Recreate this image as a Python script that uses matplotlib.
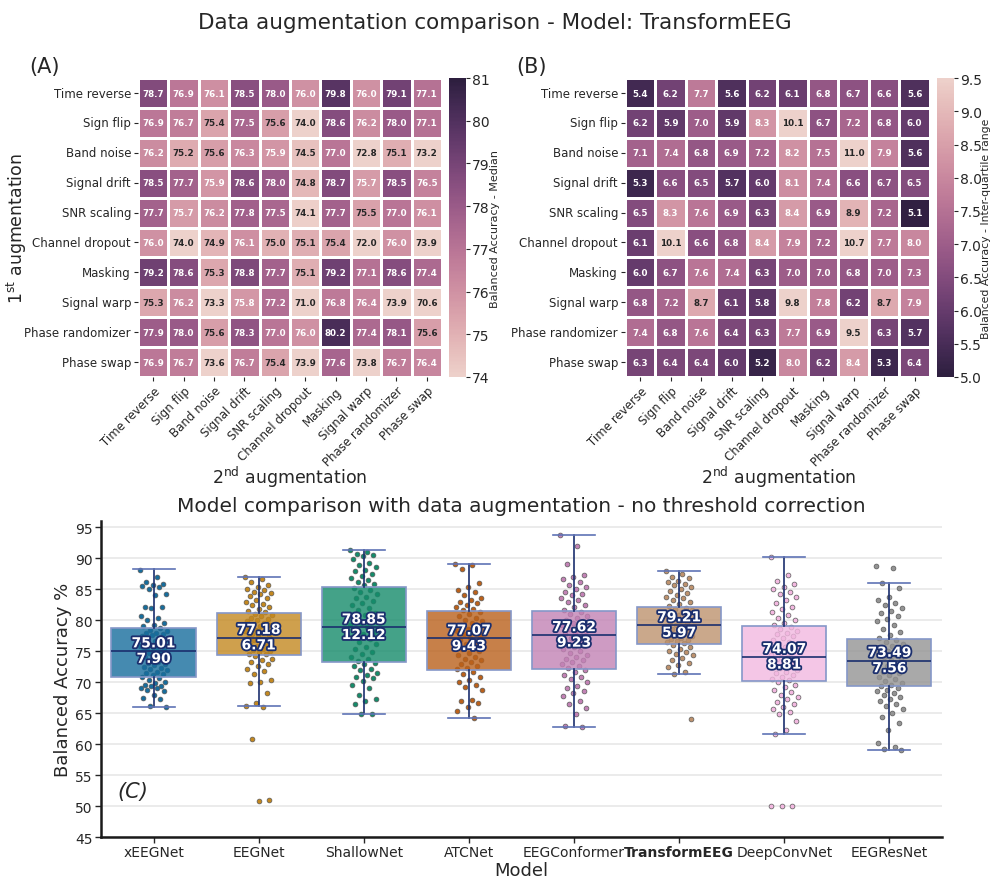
import numpy as np
import matplotlib
matplotlib.use('Agg')
import matplotlib.pyplot as plt
import matplotlib.patheffects as pe
import seaborn as sns

# ==============================================================================
# DATA
# ==============================================================================
augs = ['Time reverse', 'Sign flip', 'Band noise', 'Signal drift', 'SNR scaling',
        'Channel dropout', 'Masking', 'Signal warp', 'Phase randomizer', 'Phase swap']

# (A) median balanced accuracy, rows = 1st augmentation, cols = 2nd augmentation
median_acc = np.array([
    [78.7, 76.9, 76.1, 78.5, 78.0, 76.0, 79.8, 76.0, 79.1, 77.1],
    [76.9, 76.7, 75.4, 77.5, 75.6, 74.0, 78.6, 76.2, 78.0, 77.1],
    [76.2, 75.2, 75.6, 76.3, 75.9, 74.5, 77.0, 72.8, 75.1, 73.2],
    [78.5, 77.7, 75.9, 78.6, 78.0, 74.8, 78.7, 75.7, 78.5, 76.5],
    [77.7, 75.7, 76.2, 77.8, 77.5, 74.1, 77.7, 75.5, 77.0, 76.1],
    [76.0, 74.0, 74.9, 76.1, 75.0, 75.1, 75.4, 72.0, 76.0, 73.9],
    [79.2, 78.6, 75.3, 78.8, 77.7, 75.1, 79.2, 77.1, 78.6, 77.4],
    [75.3, 76.2, 73.3, 75.8, 77.2, 71.0, 76.8, 76.4, 73.9, 70.6],
    [77.9, 78.0, 75.6, 78.3, 77.0, 76.0, 80.2, 77.4, 78.1, 75.6],
    [76.9, 76.7, 73.6, 76.7, 75.4, 73.9, 77.6, 73.8, 76.7, 76.4],
])

# (B) inter-quartile range
iqr_acc = np.array([
    [5.4, 6.2, 7.7, 5.6, 6.2, 6.1, 6.8, 6.7, 6.6, 5.6],
    [6.2, 5.9, 7.0, 5.9, 8.3, 10.1, 6.7, 7.2, 6.8, 6.0],
    [7.1, 7.4, 6.8, 6.9, 7.2, 8.2, 7.5, 11.0, 7.9, 5.6],
    [5.3, 6.6, 6.5, 5.7, 6.0, 8.1, 7.4, 6.6, 6.7, 6.5],
    [6.5, 8.3, 7.6, 6.9, 6.3, 8.4, 6.9, 8.9, 7.2, 5.1],
    [6.1, 10.1, 6.6, 6.8, 8.4, 7.9, 7.2, 10.7, 7.7, 8.0],
    [6.0, 6.7, 7.6, 7.4, 6.3, 7.0, 7.0, 6.8, 7.0, 7.3],
    [6.8, 7.2, 8.7, 6.1, 5.8, 9.8, 7.8, 6.2, 8.7, 7.9],
    [7.4, 6.8, 7.6, 6.4, 6.3, 7.7, 6.9, 9.5, 6.3, 5.7],
    [6.3, 6.4, 6.4, 6.0, 5.2, 8.0, 6.2, 8.4, 5.3, 6.4],
])

# (C) model comparison
models = ['xEEGNet', 'EEGNet', 'ShallowNet', 'ATCNet', 'EEGConformer',
          'TransformEEG', 'DeepConvNet', 'EEGResNet']
box_med = [75.01, 77.18, 78.85, 77.07, 77.62, 79.21, 74.07, 73.49]
box_iqr = [7.90, 6.71, 12.12, 9.43, 9.23, 5.97, 8.81, 7.56]
box_q1 = [70.90, 74.45, 73.30, 72.00, 72.15, 76.20, 70.20, 69.35]
box_q3 = [78.80, 81.13, 85.40, 81.45, 81.45, 82.15, 79.00, 76.90]
whisk_lo = [66.0, 66.1, 64.8, 64.2, 62.75, 71.3, 61.7, 59.0]
whisk_hi = [88.2, 86.9, 91.3, 89.0, 93.7, 87.95, 90.2, 86.0]

pts_xeegnet = [88.1, 87.0, 86.1, 85.9, 85.7, 85.5, 85.3, 85.0, 84.3, 84.1, 82.2, 82.2,
               82.0, 80.7, 80.4, 80.1, 79.6, 79.3, 79.1, 78.7, 78.4, 78.2, 78.0, 77.9,
               77.8, 77.6, 77.4, 77.2, 77.0, 76.8, 76.6, 76.4, 76.2, 76.0, 75.8, 75.6,
               75.4, 75.2, 75.1, 75.0, 74.9, 74.7, 74.5, 74.3, 74.1, 73.9, 73.7, 73.5,
               73.3, 73.1, 72.9, 72.7, 72.5, 72.3, 72.1, 71.9, 71.7, 71.5, 71.3, 71.1,
               70.9, 70.6, 70.3, 70.0, 69.8, 69.6, 69.4, 69.3, 69.1, 69.0, 68.8, 68.5,
               67.9, 67.4, 67.2, 66.2, 66.0]
pts_eegnet = [86.9, 86.6, 86.2, 85.6, 85.4, 85.1, 84.9, 84.6, 84.4, 84.2, 83.9, 83.5,
              83.2, 82.9, 82.6, 82.4, 82.1, 81.8, 81.5, 81.3, 81.0, 80.8, 80.6, 80.4,
              80.2, 80.0, 79.8, 79.6, 79.4, 79.2, 79.0, 78.8, 78.6, 78.4, 78.2, 78.0,
              77.8, 77.6, 77.4, 77.2, 77.0, 76.8, 76.6, 76.4, 76.2, 76.0, 75.8, 75.6,
              75.4, 75.2, 75.0, 74.8, 74.6, 74.5, 74.2, 73.8, 73.5, 73.2, 73.0, 72.6,
              72.2, 71.8, 71.3, 70.4, 70.0, 69.8, 68.2, 66.6, 66.2, 66.0, 60.8, 51.0, 50.8]
pts_shallownet = [91.3, 91.0, 90.7, 90.5, 90.3, 89.8, 89.2, 88.9, 88.6, 88.1, 87.9, 87.5,
                  87.2, 86.8, 86.5, 86.2, 85.9, 85.6, 85.2, 84.8, 84.5, 84.2, 83.8, 83.5,
                  83.1, 82.8, 82.4, 82.0, 81.6, 81.2, 80.8, 80.4, 80.0, 79.6, 79.2, 78.9,
                  78.5, 78.1, 77.7, 77.3, 76.9, 76.5, 76.1, 75.7, 75.3, 74.9, 74.5, 74.1,
                  73.7, 73.4, 73.1, 72.9, 72.6, 72.2, 71.9, 71.5, 71.2, 70.9, 70.6, 70.2,
                  69.6, 69.0, 68.0, 67.3, 67.0, 66.5, 64.9, 64.8]
pts_atcnet = [89.0, 88.9, 88.2, 86.0, 85.3, 84.8, 84.5, 84.0, 83.6, 83.3, 83.0, 82.7,
              82.4, 82.1, 81.8, 81.6, 81.3, 81.0, 80.7, 80.4, 80.1, 79.8, 79.5, 79.2,
              78.9, 78.6, 78.3, 78.0, 77.7, 77.4, 77.1, 76.8, 76.5, 76.2, 75.9, 75.6,
              75.3, 75.0, 74.7, 74.4, 74.1, 73.8, 73.5, 73.2, 72.9, 72.6, 72.3, 72.1,
              71.7, 71.3, 70.9, 70.4, 70.0, 69.6, 69.2, 68.8, 67.1, 66.9, 66.7, 66.0,
              65.4, 64.2]
pts_eegconformer = [93.7, 92.0, 89.1, 87.3, 86.9, 86.6, 86.1, 85.7, 85.4, 85.0, 84.6, 84.3,
                    84.0, 83.6, 83.2, 82.9, 82.5, 82.1, 81.7, 81.3, 81.0, 80.7, 80.4, 80.1,
                    79.8, 79.5, 79.2, 78.9, 78.6, 78.3, 78.0, 77.7, 77.4, 77.1, 76.8, 76.5,
                    76.2, 75.9, 75.6, 75.3, 75.0, 74.7, 74.4, 74.1, 73.8, 73.5, 73.2, 72.9,
                    72.6, 72.3, 71.9, 71.6, 71.2, 70.9, 70.5, 70.1, 69.4, 69.0, 68.6, 68.2,
                    67.8, 67.0, 66.4, 65.9, 64.9, 63.0, 62.8]
pts_transformeeg = [87.9, 87.4, 87.0, 86.8, 86.4, 86.2, 85.9, 85.6, 85.3, 85.0, 84.7, 84.4,
                    84.1, 83.8, 83.5, 83.2, 82.9, 82.6, 82.3, 82.0, 81.8, 81.6, 81.4, 81.2,
                    81.0, 80.8, 80.6, 80.4, 80.2, 80.0, 79.8, 79.6, 79.4, 79.2, 79.0, 78.8,
                    78.6, 78.4, 78.2, 78.0, 77.8, 77.6, 77.4, 77.2, 77.0, 76.8, 76.6, 76.4,
                    76.3, 76.0, 75.7, 75.4, 75.1, 74.8, 74.6, 74.3, 73.9, 73.5, 73.1, 72.8,
                    72.5, 71.6, 71.3, 64.0]
pts_deepconvnet = [90.2, 87.3, 86.3, 85.8, 85.3, 85.0, 84.6, 84.3, 83.7, 83.2, 82.7, 82.2,
                   81.8, 81.3, 80.8, 80.4, 80.0, 79.6, 79.2, 78.9, 78.6, 78.3, 78.0, 77.7,
                   77.4, 77.1, 76.8, 76.5, 76.2, 75.9, 75.6, 75.3, 75.0, 74.7, 74.4, 74.1,
                   73.8, 73.5, 73.2, 72.9, 72.6, 72.3, 72.0, 71.7, 71.4, 71.1, 70.8, 70.5,
                   70.3, 70.0, 69.6, 69.2, 68.8, 68.4, 68.0, 67.6, 67.2, 66.8, 66.4, 66.0,
                   65.6, 65.2, 64.8, 63.7, 62.3, 61.7, 50.0, 50.0, 50.0]
pts_eegresnet = [88.8, 88.5, 86.0, 85.2, 83.8, 83.3, 82.8, 82.4, 81.9, 81.5, 81.1, 80.6,
                 80.2, 79.8, 79.2, 78.6, 78.1, 77.6, 77.2, 76.8, 76.5, 76.2, 75.9, 75.6,
                 75.3, 75.0, 74.7, 74.4, 74.1, 73.8, 73.5, 73.2, 72.9, 72.6, 72.3, 72.0,
                 71.7, 71.4, 71.1, 70.8, 70.5, 70.2, 69.9, 69.6, 69.4, 69.1, 68.8, 68.5,
                 68.2, 67.9, 67.6, 67.3, 66.9, 66.5, 66.1, 65.7, 65.0, 64.4, 63.4, 62.3,
                 60.2, 59.5, 59.2, 59.0]
points = [pts_xeegnet, pts_eegnet, pts_shallownet, pts_atcnet,
          pts_eegconformer, pts_transformeeg, pts_deepconvnet, pts_eegresnet]

# ==============================================================================
# FIGURE
# ==============================================================================
plt.rcParams['font.family'] = 'DejaVu Sans'
plt.rcParams['text.color'] = '#262626'
plt.rcParams['axes.labelcolor'] = '#262626'
plt.rcParams['xtick.color'] = '#262626'
plt.rcParams['ytick.color'] = '#262626'

fig = plt.figure(figsize=(9.9, 8.79), dpi=100)
fig.suptitle('Data augmentation comparison - Model: TransformEEG', fontsize=15.5, y=0.985)

cmap_a = sns.cubehelix_palette(as_cmap=True)
cmap_b = sns.cubehelix_palette(as_cmap=True, reverse=True)

axA = fig.add_axes([0.1394, 0.570, 0.307, 0.340])
caxA = fig.add_axes([0.4535, 0.570, 0.0172, 0.340])
axB = fig.add_axes([0.6313, 0.570, 0.308, 0.340])
caxB = fig.add_axes([0.9465, 0.570, 0.0172, 0.340])

for ax, cax, mat, cmap, vmin, vmax, clabel in [
        (axA, caxA, median_acc, cmap_a, 74, 81, 'Balanced Accuracy - Median'),
        (axB, caxB, iqr_acc, cmap_b, 5.0, 9.5, 'Balanced Accuracy - Inter-quartile range')]:
    sns.heatmap(mat, ax=ax, cbar_ax=cax, cmap=cmap, vmin=vmin, vmax=vmax,
                annot=True, fmt='.1f', annot_kws={'size': 6.3, 'weight': 'bold'},
                linewidths=1, linecolor='white',
                xticklabels=augs, yticklabels=augs)
    ax.tick_params(axis='both', labelsize=8.5, length=3, width=0.8, pad=2)
    ax.set_xticklabels(augs, rotation=45, ha='right', rotation_mode='anchor')
    ax.set_yticklabels(augs, rotation=0)
    cax.tick_params(labelsize=10, length=3, width=0.8, pad=1.5)
    cax.set_ylabel(clabel, fontsize=8.0, labelpad=0)
    for s in cax.spines.values():
        s.set_visible(False)

caxB.set_yticks(np.arange(5.0, 9.51, 0.5))
caxB.set_yticklabels([f'{v:.1f}' for v in np.arange(5.0, 9.51, 0.5)])
caxB.set_ylabel('Balanced Accuracy - Inter-quartile range', fontsize=7.8, labelpad=-1)

fig.text(0.030, 0.924, '(A)', fontsize=15, va='center', ha='left')
fig.text(0.521, 0.924, '(B)', fontsize=15, va='center', ha='left')
fig.text(0.017, 0.740, r'1$^{\mathrm{st}}$ augmentation', fontsize=12.5,
         rotation=90, va='center', ha='center')
fig.text(0.293, 0.457, r'2$^{\mathrm{nd}}$ augmentation', fontsize=12.5, va='center', ha='center')
fig.text(0.786, 0.457, r'2$^{\mathrm{nd}}$ augmentation', fontsize=12.5, va='center', ha='center')

# ── (C) box plot ──────────────────────────────────────────────────────────────
axC = fig.add_axes([0.102, 0.0466, 0.8495, 0.3595])
palette = sns.color_palette('colorblind', 8)
box_cols = [sns.desaturate(c, 0.75) for c in palette]

axC.set_axisbelow(True)
axC.grid(axis='y', color='#e9e9e9', linewidth=1.3)
axC.grid(axis='x', visible=False)

for i, vals in enumerate(points):
    vals = np.asarray(vals)
    offs = ((np.arange(len(vals)) * 0.6180339887) % 1 - 0.5) * 0.26
    axC.scatter(i + offs, vals, s=12, color=box_cols[i], edgecolor='#5a5a5a',
                linewidth=0.5, zorder=2)

stats = []
for i in range(len(models)):
    stats.append({'med': box_med[i], 'q1': box_q1[i], 'q3': box_q3[i],
                  'whislo': whisk_lo[i], 'whishi': whisk_hi[i], 'fliers': []})
bp = axC.bxp(stats, positions=range(len(models)), widths=0.8, patch_artist=True,
             showfliers=False,
             boxprops={'edgecolor': '#8597c8', 'linewidth': 1.2},
             medianprops={'color': '#1b2f6e', 'linewidth': 1.2},
             whiskerprops={'color': '#1b2f6e', 'linewidth': 1.2},
             capprops={'color': '#5f73b5', 'linewidth': 1.2},
             capwidths=0.4, zorder=3)
for patch, c in zip(bp['boxes'], box_cols):
    patch.set_facecolor((*c, 0.8))

stroke = [pe.withStroke(linewidth=2.6, foreground='#1b2f6e')]
for i in range(len(models)):
    axC.text(i, box_med[i] + 1.25, f'{box_med[i]:.2f}', ha='center', va='center',
             color='white', fontsize=10, fontweight='bold', path_effects=stroke, zorder=5)
    axC.text(i, box_med[i] - 1.25, f'{box_iqr[i]:.2f}', ha='center', va='center',
             color='white', fontsize=10, fontweight='bold', path_effects=stroke, zorder=5)

axC.set_xlim(-0.5, 7.5)
axC.set_ylim(45, 96)
axC.set_yticks(np.arange(45, 96, 5))
axC.set_xticks(range(len(models)))
axC.set_xticklabels(models)
axC.get_xticklabels()[5].set_fontweight('bold')
axC.tick_params(axis='both', labelsize=10, length=4, width=1, pad=2)
axC.set_xlabel('Model', fontsize=13, labelpad=1)
axC.set_ylabel('Balanced Accuracy %', fontsize=13, labelpad=2)
axC.set_title('Model comparison with data augmentation - no threshold correction',
              fontsize=14.5, pad=7)
for side in ['top', 'right']:
    axC.spines[side].set_visible(False)
for side in ['left', 'bottom']:
    axC.spines[side].set_color('#1a1a1a')
    axC.spines[side].set_linewidth(1.8)
axC.text(-0.34, 52.5, '(C)', fontsize=15, style='italic', va='center', ha='left')

plt.savefig('out.png', dpi=100)
